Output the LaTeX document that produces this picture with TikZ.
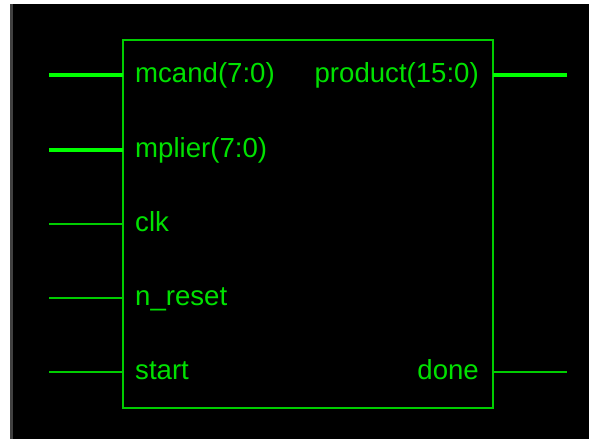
\documentclass[tikz,border=0pt]{standalone}
\usepackage{fontspec}
\setmainfont{Liberation Sans}
\begin{document}
\begin{tikzpicture}[x=1pt,y=-1pt,
  pinlabel/.style={text=sigtext,inner sep=0pt,font=\fontsize{27.6}{31}\selectfont},
  bus/.style={draw=busgreen,line width=4pt},
  wire/.style={draw=wiregreen,line width=1.1pt},
  chipbox/.style={draw=wiregreen,line width=1.1pt,minimum width=370pt,minimum height=368pt,inner sep=0pt}]
\definecolor{busgreen}{RGB}{0,255,0}
\definecolor{wiregreen}{RGB}{0,205,0}
\definecolor{sigtext}{RGB}{0,225,0}
\definecolor{frame}{RGB}{64,64,64}
\useasboundingbox (0,0) rectangle (589,439);
% canvas
\fill[white] (0,0) rectangle (589,439);
\fill[black] (10,4) rectangle (589,439);
\fill[frame] (10,4) rectangle (13,439);
% component body
\node[chipbox] (chip) at (308,224) {};
% pin ends on the body and free wire ends
\foreach \n/\y in {mcand/75,mplier/150,clk/224,nreset/298,start/372}{
  \coordinate (\n-in) at (123,\y);
  \coordinate (\n-end) at (49,\y);
}
\foreach \n/\y in {product/75,done/372}{
  \coordinate (\n-in) at (493,\y);
  \coordinate (\n-end) at (567,\y);
}
% connectors
\draw[bus] (mcand-end) -- (mcand-in);
\draw[bus] (mplier-end) -- (mplier-in);
\draw[wire] (clk-end) -- (clk-in);
\draw[wire] (nreset-end) -- (nreset-in);
\draw[wire] (start-end) -- (start-in);
\draw[bus] (product-in) -- (product-end);
\draw[wire] (done-in) -- (done-end);
% pin names
\node[pinlabel,anchor=base west] (lmcand) at (135,82) {mcand(7:0)};
\node[pinlabel,anchor=base west] (lmplier) at (135,157) {mplier(7:0)};
\node[pinlabel,anchor=base west] (lclk) at (135,231) {clk};
\node[pinlabel,anchor=base west] (lnreset) at (135,305) {n\_reset};
\node[pinlabel,anchor=base west] (lstart) at (135,379) {start};
\node[pinlabel,anchor=base east] (lproduct) at (479,82) {product(15:0)};
\node[pinlabel,anchor=base east] (ldone) at (479,379) {done};
\end{tikzpicture}
\end{document}
